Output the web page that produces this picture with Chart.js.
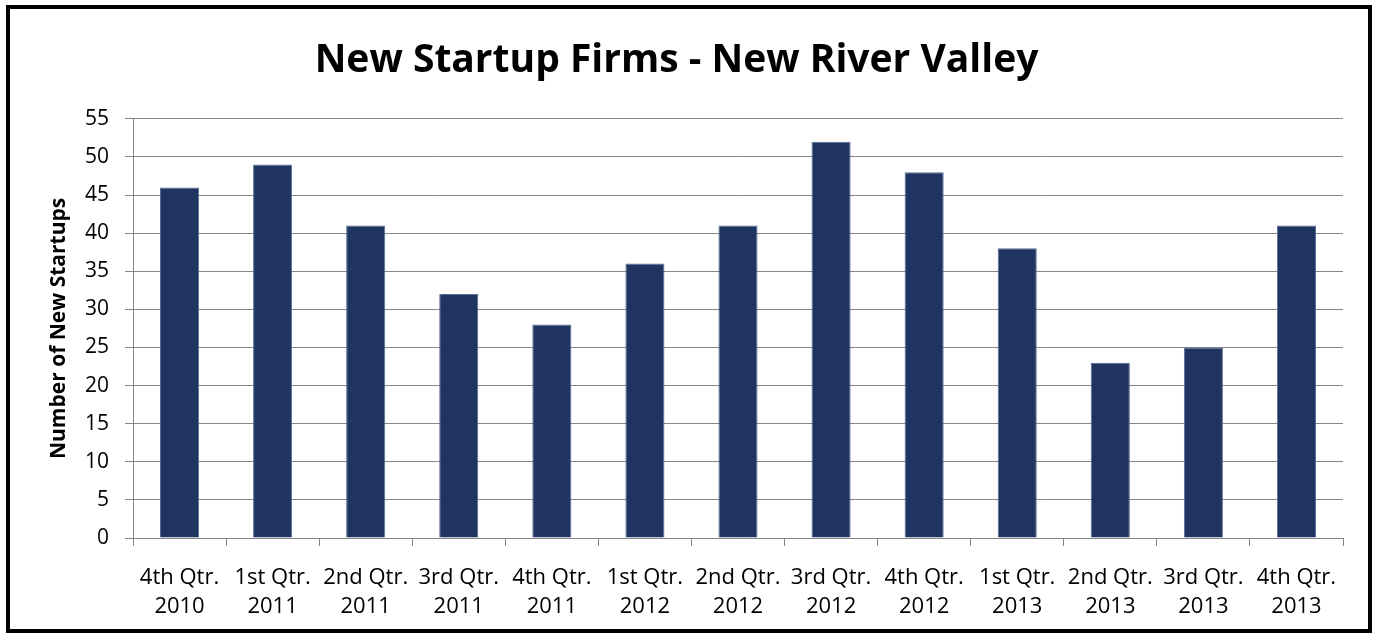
<!DOCTYPE html>
<html>
<head>
<meta charset="utf-8">
<script src="https://cdn.jsdelivr.net/npm/chart.js@4"></script>
<style>
  body { margin: 0; background: #fff; }
  #frame {
    position: absolute; left: 6px; top: 5px;
    width: 1366px; height: 628px;
    box-sizing: border-box; border: 4px solid #000;
  }
</style>
</head>
<body>
<div id="frame"><canvas id="startups_chart" width="1358" height="620"></canvas></div>
<script>
const quarters = ['4th Qtr.', '1st Qtr.', '2nd Qtr.', '3rd Qtr.', '4th Qtr.', '1st Qtr.', '2nd Qtr.', '3rd Qtr.', '4th Qtr.', '1st Qtr.', '2nd Qtr.', '3rd Qtr.', '4th Qtr.'];
const years = ['2010', '2011', '2011', '2011', '2011', '2012', '2012', '2012', '2012', '2013', '2013', '2013', '2013'];
const startups = [46, 49, 41, 32, 28, 36, 41, 52, 48, 38, 23, 25, 41];

const fontFamily = '"Open Sans", Lato, sans-serif';

// init startups chart
const ctx = document.getElementById('startups_chart').getContext('2d');
var chart = new Chart(ctx, {
    type: 'bar',
    data: {
        labels: quarters.map(function(q, i){ return [q, years[i]]; }),
        datasets: [{
            label: 'New Startups',
            backgroundColor: '#1f3461',
            borderColor: '#5a6d93',
            borderWidth: 1,
            barPercentage: 0.42,
            categoryPercentage: 1,
            data: startups
        }]
    },
    options: {
        responsive: false,
        animation: false,
        layout: { padding: { left: 0, right: 25, top: 0, bottom: 0 } },
        plugins: {
            legend: { display: false },
            tooltip: { enabled: false },
            title: {
                display: true,
                text: 'New Startup Firms - New River Valley',
                color: '#000',
                font: { family: fontFamily, size: 39, weight: 'bold' },
                padding: { top: 28, bottom: 35 }
            }
        },
        scales: {
            x: {
                grid: {
                    drawOnChartArea: false,
                    drawTicks: true,
                    tickLength: 8,
                    color: '#868686'
                },
                border: { color: '#868686' },
                ticks: {
                    color: '#000',
                    padding: 17,
                    maxRotation: 0,
                    autoSkip: false,
                    font: { family: fontFamily, size: 22, lineHeight: 1.32 }
                },
                afterFit: function(scale){ scale.height = 91; }
            },
            y: {
                min: 0,
                max: 55,
                ticks: {
                    stepSize: 5,
                    color: '#000',
                    padding: 16,
                    font: { family: fontFamily, size: 21 }
                },
                grid: { color: '#868686', tickLength: 8 },
                border: { color: '#868686' },
                title: {
                    display: true,
                    text: 'Number of New Startups',
                    color: '#000',
                    font: { family: fontFamily, size: 21, weight: 'bold' },
                    padding: { top: 36, bottom: 0 }
                },
                afterFit: function(scale){ scale.width = 123; }
            }
        }
    }
});
</script>
</body>
</html>
